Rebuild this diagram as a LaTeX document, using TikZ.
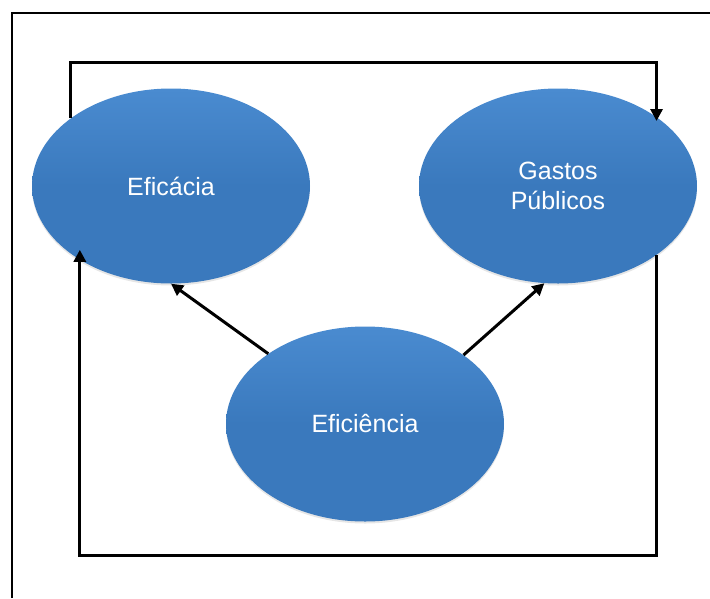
\documentclass[tikz,border=0pt]{standalone}
\usepackage{fontspec}
\setmainfont{Liberation Sans}
\usetikzlibrary{shapes.geometric,arrows.meta,shadows}
\definecolor{ellblue}{HTML}{3A79BD}
\definecolor{elltop}{HTML}{4A8BD0}
\begin{document}
\begin{tikzpicture}[x=1pt,y=-1pt,
  bubble/.style={ellipse, minimum width=278pt, minimum height=195pt, inner sep=0pt,
    top color=elltop, bottom color=ellblue, middle color=ellblue, draw=none,
    drop shadow={shadow xshift=0pt, shadow yshift=-2pt, opacity=0.2},
    text=white, align=center, font=\fontsize{25}{30}\selectfont},
  conn/.style={line width=3pt, -{Triangle[length=12pt,width=12pt]}},
  frameline/.style={line width=2pt}]
\useasboundingbox (0,0) rectangle (710,598);
\draw[frameline] (12,598) -- (12,13) -- (710,13);
\node[bubble] (efa) at (171,186) {Efic\'acia};
\node[bubble] (gas) at (558,186) {Gastos\\P\'ublicos};
\node[bubble] (efi) at (365,424) {Efici\^encia};
\coordinate (topy) at (0,62);
\coordinate (boty) at (0,555);
\draw[conn] (efa.146) |- (gas.35 |- topy) -- ([yshift=-4pt]gas.35);
\draw[conn] (gas.-35) |- (efa.-141 |- boty) -- ([yshift=10pt]efa.-141);
\draw[conn] (efi.144) -- (efa.south);
\draw[conn] (efi.35) -- (gas.262);
\end{tikzpicture}
\end{document}
